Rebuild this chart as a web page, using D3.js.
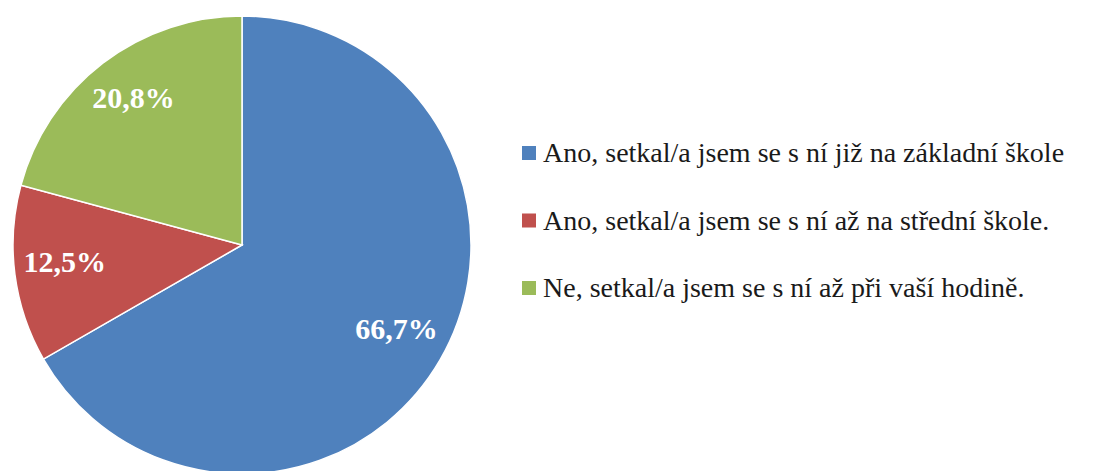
<!DOCTYPE html>
<html>
<head>
<meta charset="utf-8">
<script src="https://cdn.jsdelivr.net/npm/d3@7"></script>
<style>
  body { margin: 0; background: #fff; }
  svg { display: block; font-family: "Liberation Serif", "Times New Roman", serif; }
</style>
</head>
<body>
<svg id="chart" width="1108" height="471"></svg>
<script>
let categories = [
  "Ano, setkal/a jsem se s ní již na základní škole",
  "Ano, setkal/a jsem se s ní až na střední škole.",
  "Ne, setkal/a jsem se s ní až při vaší hodině."
];
let values = [66.7, 12.5, 20.8];
let valueLabels = ["66,7%", "12,5%", "20,8%"];

let colors = ["#4f81bd", "#c0504d", "#9bbb59"];
let font_family = "Liberation Serif";

let width = 1108, height = 471;
let cx = 242, cy = 245, r = 229;
let labelPos = 0.78;

let svg = d3.select("#chart")
  .attr("font-family", font_family);

let data = categories.map((c, i) => ({ name: c, value: values[i], label: valueLabels[i] }));

let pie = d3.pie().sort(null).value(d => d.value);
let arc = d3.arc().innerRadius(0).outerRadius(r);
let labelArc = d3.arc().innerRadius(r * labelPos).outerRadius(r * labelPos);

let g = svg.append("g")
  .attr("transform", `translate(${cx}, ${cy})`);

let slices = g.selectAll(".slice")
  .data(pie(data))
  .enter()
  .append("g")
  .attr("class", "slice");

slices.append("path")
  .attr("d", arc)
  .attr("fill", (d, i) => colors[i])
  .attr("stroke", "white")
  .attr("stroke-width", 1.5);

slices.append("text")
  .attr("transform", d => {
    let [x, y] = labelArc.centroid(d);
    return `translate(${x}, ${y})`;
  })
  .attr("text-anchor", "middle")
  .attr("dy", "0.15em")
  .attr("font-weight", "bold")
  .attr("font-size", 30)
  .attr("fill", "white")
  .text(d => d.data.label);

// key on the right
let keyX = 522, keyY = 153, keyStep = 67.5, sq = 14;

svg.selectAll(".keybox")
  .data(data)
  .enter()
  .append("rect")
  .attr("class", "keybox")
  .attr("x", keyX)
  .attr("y", (d, i) => keyY + i * keyStep - sq / 2)
  .attr("width", sq)
  .attr("height", sq)
  .attr("fill", (d, i) => colors[i]);

let keyText = svg.selectAll(".keytext")
  .data(data)
  .enter()
  .append("text")
  .attr("class", "keytext")
  .attr("x", keyX + 21)
  .attr("y", (d, i) => keyY + i * keyStep + 9)
  .attr("font-size", 28)
  .attr("fill", "#1a1a1a");

// one tspan per word, spaces kept in the text
keyText.selectAll("tspan")
  .data(d => d.name.split(" ").map((w, j, a) => j < a.length - 1 ? w + " " : w))
  .enter()
  .append("tspan")
  .attr("font-family", font_family)
  .text(w => w);
</script>
</body>
</html>
